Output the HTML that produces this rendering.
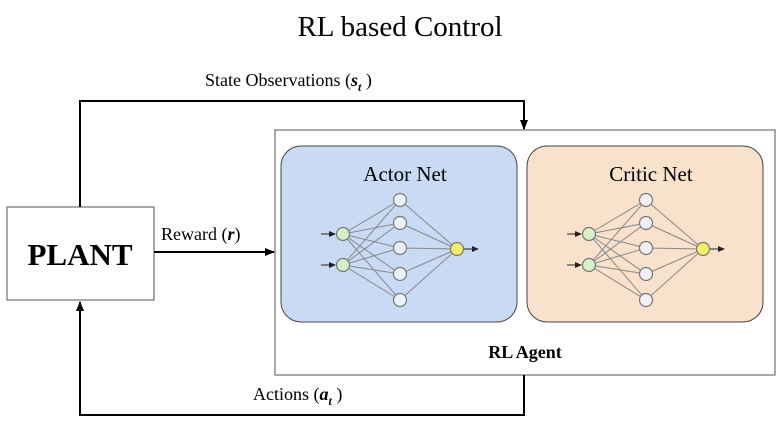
<!DOCTYPE html>
<html><head><style>body{margin:0;background:#fff}</style></head><body>
<svg width="783" height="427" xmlns="http://www.w3.org/2000/svg" font-family="Liberation Serif, serif">
<defs>
<marker id="a" markerWidth="10" markerHeight="8" refX="9" refY="4" orient="auto" markerUnits="userSpaceOnUse"><path d="M0,0 L10,4 L0,8z" fill="#000"/></marker>
<marker id="s" markerWidth="7" markerHeight="6" refX="6" refY="3" orient="auto" markerUnits="userSpaceOnUse"><path d="M0,0 L7,3 L0,6z" fill="#222"/></marker>
<g id="net">
<g stroke="#888" stroke-width="1">
<line x1="0" y1="0" x2="57" y2="-34"/><line x1="0" y1="0" x2="57" y2="-11"/><line x1="0" y1="0" x2="57" y2="14"/><line x1="0" y1="0" x2="57" y2="40"/><line x1="0" y1="0" x2="57" y2="66"/>
<line x1="0" y1="31" x2="57" y2="-34"/><line x1="0" y1="31" x2="57" y2="-11"/><line x1="0" y1="31" x2="57" y2="14"/><line x1="0" y1="31" x2="57" y2="40"/><line x1="0" y1="31" x2="57" y2="66"/>
<line x1="57" y1="-34" x2="114" y2="15"/><line x1="57" y1="-11" x2="114" y2="15"/><line x1="57" y1="14" x2="114" y2="15"/><line x1="57" y1="40" x2="114" y2="15"/><line x1="57" y1="66" x2="114" y2="15"/>
</g>
<line x1="-22" y1="0" x2="-8" y2="0" stroke="#222" marker-end="url(#s)"/>
<line x1="-22" y1="31" x2="-8" y2="31" stroke="#222" marker-end="url(#s)"/>
<line x1="121" y1="15" x2="135" y2="15" stroke="#222" marker-end="url(#s)"/>
<g stroke="#777" stroke-width="1.2">
<circle cx="0" cy="0" r="6.5" fill="#d6f0c8"/><circle cx="0" cy="31" r="6.5" fill="#d6f0c8"/>
<circle cx="57" cy="-34" r="6.5" fill="#eef2f6"/><circle cx="57" cy="-11" r="6.5" fill="#eef2f6"/><circle cx="57" cy="14" r="6.5" fill="#eef2f6"/><circle cx="57" cy="40" r="6.5" fill="#eef2f6"/><circle cx="57" cy="66" r="6.5" fill="#eef2f6"/>
<circle cx="114" cy="15" r="6.5" fill="#f2f060"/>
</g>
</g>
</defs>
<text x="400" y="36" font-size="29" text-anchor="middle">RL based Control</text>
<rect x="275" y="130" width="500" height="245" fill="#fff" stroke="#555" stroke-width="1"/>
<rect x="281" y="146" width="236" height="176" rx="20" fill="#c9daf4" stroke="#444"/>
<rect x="527" y="146" width="236" height="176" rx="20" fill="#f9e1cc" stroke="#444"/>
<text x="405" y="181" font-size="21" text-anchor="middle">Actor Net</text>
<text x="651" y="181" font-size="21" text-anchor="middle">Critic Net</text>
<use href="#net" x="343" y="234"/>
<use href="#net" x="589" y="234"/>
<text x="525" y="358" font-size="18" font-weight="bold" text-anchor="middle">RL Agent</text>
<rect x="7" y="207" width="147" height="93" fill="#fff" stroke="#555"/>
<text x="80" y="265" font-size="31" font-weight="bold" text-anchor="middle">PLANT</text>
<polyline points="80,207 80,101 524,101 524,129" fill="none" stroke="#000" stroke-width="2" marker-end="url(#a)"/>
<polyline points="524,375 524,415 80,415 80,302" fill="none" stroke="#000" stroke-width="2" marker-end="url(#a)"/>
<line x1="154" y1="252" x2="274" y2="252" stroke="#000" stroke-width="2" marker-end="url(#a)"/>
<text x="205" y="86" font-size="18">State Observations (<tspan font-weight="bold" font-style="italic">s</tspan><tspan font-size="12" dy="5" font-style="italic" font-weight="bold">t</tspan><tspan dy="-5"> )</tspan></text>
<text x="161" y="240" font-size="18">Reward (<tspan font-weight="bold" font-style="italic">r</tspan>)</text>
<text x="253" y="400" font-size="18">Actions (<tspan font-weight="bold" font-style="italic">a</tspan><tspan font-size="12" dy="5" font-style="italic" font-weight="bold">t</tspan><tspan dy="-5"> )</tspan></text>
</svg>
</body></html>
